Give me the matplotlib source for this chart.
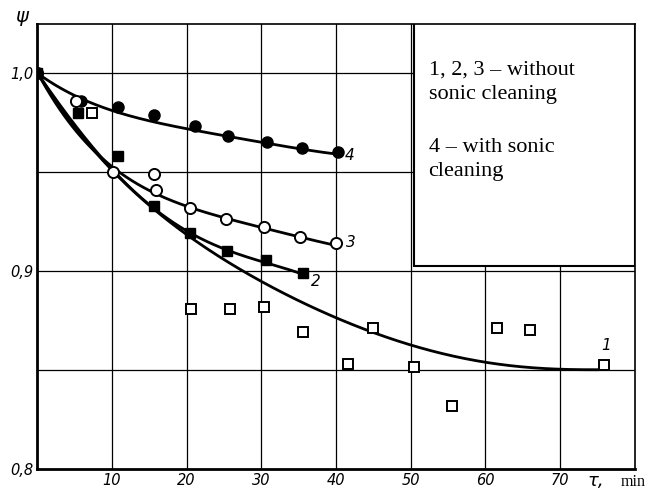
import numpy as np
import matplotlib
matplotlib.use("Agg")
import matplotlib.pyplot as plt
from matplotlib.patches import Rectangle

# --- datos ---
t4 = [0, 5.9, 10.8, 15.6, 21.1, 25.6, 30.8, 35.5, 40.3]
psi4 = [1.0, 0.986, 0.983, 0.979, 0.973, 0.968, 0.965, 0.962, 0.960]

t3 = [0, 5.2, 10.2, 15.6, 15.9, 20.4, 25.3, 30.3, 35.2, 40.0]
psi3 = [1.0, 0.986, 0.950, 0.949, 0.941, 0.932, 0.926, 0.922, 0.917, 0.914]

t2 = [0, 5.4, 10.8, 15.6, 20.5, 25.4, 30.6, 35.6]
psi2 = [1.0, 0.980, 0.958, 0.933, 0.919, 0.910, 0.9055, 0.899]

t1 = [7.3, 20.6, 25.8, 30.4, 35.6, 41.6, 45.0, 50.4, 55.5, 61.5, 66.0, 75.9]
psi1 = [0.980, 0.881, 0.881, 0.882, 0.869, 0.853, 0.871, 0.8515, 0.832, 0.871, 0.870, 0.8525]

# curvas trazadas a mano (nodos leídos)
c4_t = [0, 5, 10, 15, 20, 25, 30, 35, 40]
c4_y = [1.0, 0.9885, 0.981, 0.976, 0.972, 0.968, 0.965, 0.962, 0.959]
c3_t = [0, 5, 10, 15, 20, 25, 30, 35, 40]
c3_y = [1.0, 0.973, 0.951, 0.941, 0.933, 0.927, 0.922, 0.917, 0.913]
c2_t = [0, 5, 10, 15, 20, 25, 30, 35]
c2_y = [1.0, 0.974, 0.951, 0.934, 0.920, 0.911, 0.905, 0.899]
c1_t = [0, 5, 10, 15, 20, 25, 30, 40, 50, 60, 70, 75]
c1_y = [1.0, 0.973, 0.951, 0.933, 0.918, 0.906, 0.8945, 0.877, 0.862, 0.854, 0.8505, 0.850]

nota = ["1, 2, 3 – without", "sonic cleaning", "4 – with sonic", "cleaning"]
nota_y = [0.999, 0.9869, 0.9601, 0.948]

fig = plt.figure(figsize=(6.55, 4.92), dpi=100)
ax = fig.add_axes([0.057, 0.047, 0.912, 0.904])
ax.set_xlim(0, 80)
ax.set_ylim(0.8, 1.0247)

# rejilla
for x in range(10, 80, 10):
    ax.axvline(x, color="black", lw=0.9, zorder=1)
for y in [0.85, 0.9, 0.95, 1.0]:
    ax.axhline(y, color="black", lw=0.9, zorder=1)

# recuadro con el texto
ax.add_patch(Rectangle((50.5, 0.9025), 29.5, 0.13, facecolor="white",
                       edgecolor="black", lw=1.5, zorder=2))
for txt, yy in zip(nota, nota_y):
    ax.text(52.4, yy, txt, family="Liberation Serif", fontsize=16,
            va="baseline", zorder=3)


def curva(tn, yn, grado):
    tt = np.linspace(tn[0], tn[-1], 200)
    p = np.polyfit(tn, yn, grado)
    return tt, np.polyval(p, tt)


for tn, yn, g in [(c4_t, c4_y, 4), (c3_t, c3_y, 4), (c2_t, c2_y, 4), (c1_t, c1_y, 5)]:
    tt, yy = curva(tn, yn, g)
    ax.plot(tt, yy, color="black", lw=2.0, zorder=4)

ax.plot(t4, psi4, "o", ms=8, mfc="black", mec="black", zorder=5)
ax.plot(t3, psi3, "o", ms=8, mfc="white", mec="black", mew=1.4, zorder=5)
ax.plot(t2, psi2, "s", ms=7.5, mfc="black", mec="black", zorder=5)
ax.plot(t1, psi1, "s", ms=7.5, mfc="white", mec="black", mew=1.4, zorder=5)

# etiquetas de curvas
lab = dict(fontsize=11, style="italic", zorder=6)
ax.text(41.2, 0.9585, "4", va="center", **lab)
ax.text(41.3, 0.9145, "3", va="center", **lab)
ax.text(36.6, 0.8945, "2", va="center", **lab)
ax.text(75.5, 0.8585, "1", va="bottom", **lab)

# ejes
ax.set_xticks(range(10, 80, 10))
ax.set_xticklabels([str(v) for v in range(10, 80, 10)], style="italic", fontsize=10.5)
ax.set_yticks([0.8, 0.9, 1.0])
ax.set_yticklabels(["0,8", "0,9", "1,0"], style="italic", fontsize=10.5)
ax.tick_params(length=0, pad=3)
for s in ["left", "bottom"]:
    ax.spines[s].set_linewidth(2.0)
for s in ["top", "right"]:
    ax.spines[s].set_linewidth(1.2)

fig.text(0.023, 0.955, "ψ", style="italic", fontsize=14)
fig.text(0.897, 0.012, "τ,", style="italic", fontsize=13)
fig.text(0.947, 0.012, "min", family="Liberation Serif", fontsize=11.5)

fig.savefig("out.png", dpi=100)
